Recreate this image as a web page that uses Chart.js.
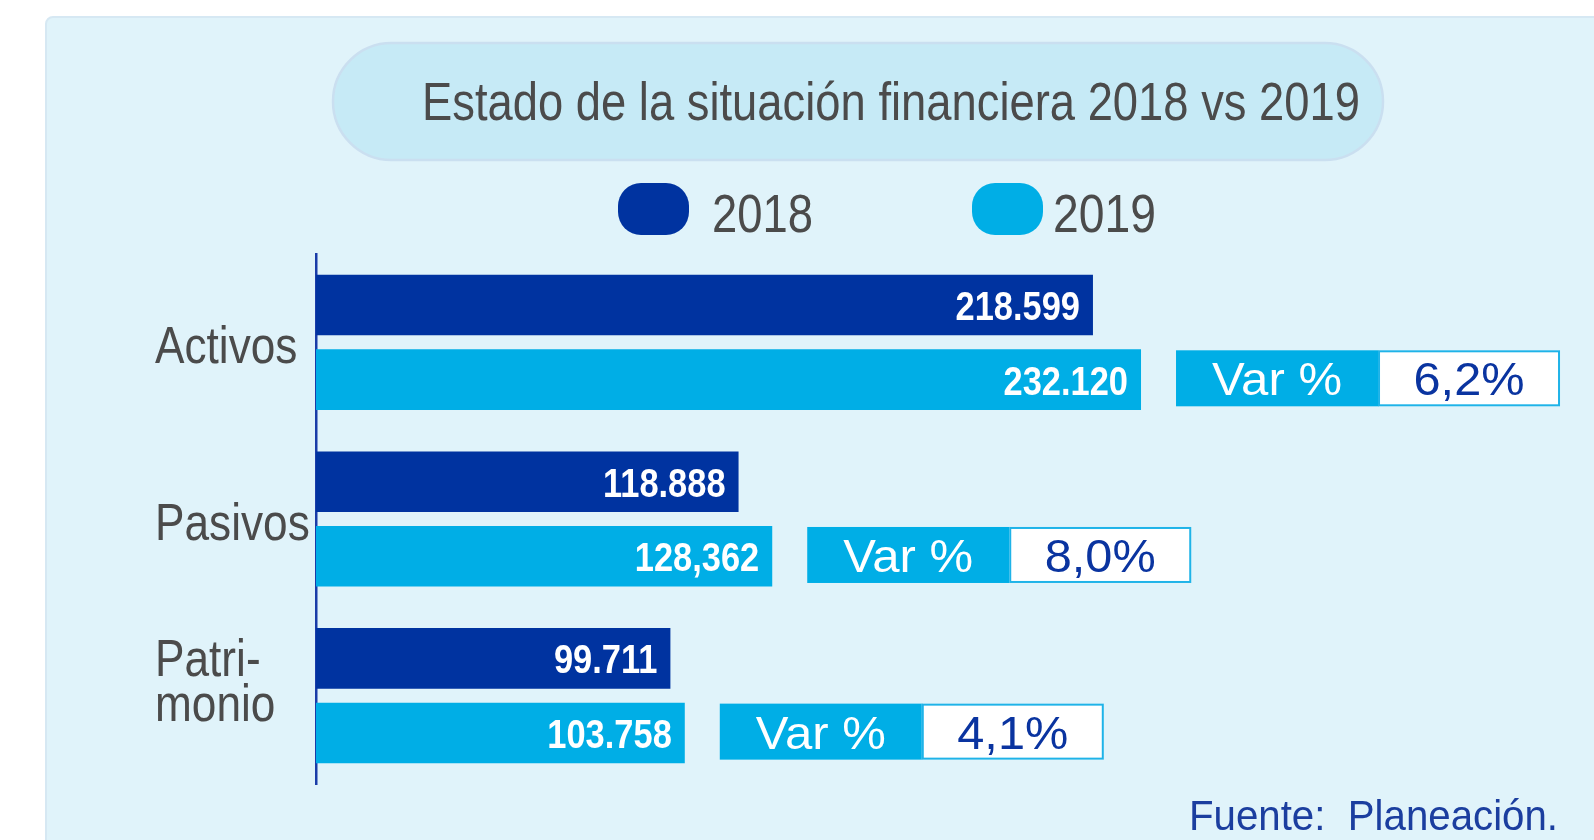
<!DOCTYPE html>
<html lang="es">

<head>
    <meta charset="UTF-8">
    <title>Estado de la situación financiera 2018 vs 2019</title>
    <style>
        body { margin: 0; background: #ffffff; }
        canvas { display: block; }
    </style>
</head>

<body>
    <canvas id="myChart" width="1594" height="840"></canvas>

    <script src="https://cdn.jsdelivr.net/npm/chart.js"></script>
    <script>
        // data
        const titleText = 'Estado de la situación financiera 2018 vs 2019';
        const sourceText = 'Fuente:  Planeación.';
        const categories = ['Activos', 'Pasivos', ['Patri-', 'monio']];
        const seriesNames = ['2018', '2019'];
        const values2018 = [218599, 118888, 99711];
        const values2019 = [232120, 128362, 103758];
        const valueLabels2018 = ['218.599', '118.888', '99.711'];
        const valueLabels2019 = ['232.120', '128,362', '103.758'];
        const varLabel = 'Var %';
        const varValues = ['6,2%', '8,0%', '4,1%'];

        const dark = '#0033a0';
        const cyan = '#00aee6';
        const grey = '#4b4b4b';
        const FONT = '"Liberation Sans", Arial, Helvetica, sans-serif';

        // draws text squeezed horizontally (sx) or fitted to a width
        function drawText(ctx, text, x, y, size, weight, color, align, sx, fitWidth) {
            ctx.save();
            ctx.font = weight + ' ' + size + 'px ' + FONT;
            ctx.fillStyle = color;
            ctx.textAlign = 'left';
            ctx.textBaseline = 'alphabetic';
            const raw = ctx.measureText(text).width;
            if (fitWidth) sx = fitWidth / raw;
            const w = raw * sx;
            let left = x;
            if (align === 'right') left = x - w;
            if (align === 'center') left = x - w / 2;
            ctx.translate(left, y);
            ctx.scale(sx, 1);
            ctx.fillText(text, 0, 0);
            ctx.restore();
            return w;
        }

        function roundRect(ctx, x, y, w, h, r) {
            ctx.beginPath();
            ctx.moveTo(x + r, y);
            ctx.lineTo(x + w - r, y);
            ctx.arcTo(x + w, y, x + w, y + r, r);
            ctx.lineTo(x + w, y + h - r);
            ctx.arcTo(x + w, y + h, x + w - r, y + h, r);
            ctx.lineTo(x + r, y + h);
            ctx.arcTo(x, y + h, x, y + h - r, r);
            ctx.lineTo(x, y + r);
            ctx.arcTo(x, y, x + r, y, r);
            ctx.closePath();
        }

        // background panel, title pill and legend
        const backdrop = {
            id: 'backdrop',
            beforeDraw(chart) {
                const ctx = chart.ctx;
                ctx.save();
                roundRect(ctx, 46, 17, 1600, 900, 7);
                ctx.fillStyle = '#e0f3fa';
                ctx.fill();
                ctx.strokeStyle = '#d6e8f3';
                ctx.lineWidth = 2;
                ctx.stroke();

                roundRect(ctx, 333, 43, 1050, 117, 58.5);
                ctx.fillStyle = '#c6eaf6';
                ctx.fill();
                ctx.strokeStyle = '#cadff0';
                ctx.lineWidth = 2.5;
                ctx.stroke();
                ctx.restore();

                drawText(ctx, titleText, 422, 120, 54, 'normal', grey, 'left', 1, 938);

                // legend
                const items = [
                    { box: 618, text: 712, w: 101 },
                    { box: 972, text: 1053, w: 103 }
                ];
                chart.data.datasets.forEach((ds, i) => {
                    ctx.save();
                    roundRect(ctx, items[i].box, 183, 71, 52, 23);
                    ctx.fillStyle = ds.backgroundColor;
                    ctx.fill();
                    ctx.restore();
                    drawText(ctx, ds.label, items[i].text, 232, 54, 'normal', grey, 'left', 1, items[i].w);
                });
            }
        };

        // value labels, var % boxes, category labels, source
        const annotations = {
            id: 'annotations',
            afterDatasetsDraw(chart) {
                const ctx = chart.ctx;
                const texts = [valueLabels2018, valueLabels2019];
                chart.data.datasets.forEach((ds, d) => {
                    chart.getDatasetMeta(d).data.forEach((bar, i) => {
                        drawText(ctx, texts[d][i], bar.x - 13, bar.y + 15, 41, 'bold', '#ffffff', 'right', 0.84);
                    });
                });

                // var % boxes next to the 2019 bars
                chart.getDatasetMeta(1).data.forEach((bar, i) => {
                    const top = bar.y - bar.height / 2 + 1;
                    const left = bar.x + 35;
                    const h = 56;
                    ctx.save();
                    ctx.fillStyle = cyan;
                    ctx.fillRect(left, top, 203, h);
                    ctx.fillStyle = '#ffffff';
                    ctx.fillRect(left + 202, top, 181, h);
                    ctx.strokeStyle = '#1fb3e8';
                    ctx.lineWidth = 2;
                    ctx.strokeRect(left + 202 + 1, top + 1, 180, h - 2);
                    ctx.restore();
                    drawText(ctx, varLabel, left + 101, top + h / 2 + 17, 47, 'normal', '#ffffff', 'center', 1, 130);
                    drawText(ctx, varValues[i], left + 293, top + h / 2 + 17, 47, 'normal', '#0a34a0', 'center', 1, 111);
                });

                // category labels
                const yScale = chart.scales.y;
                chart.data.labels.forEach((lab, i) => {
                    const lines = Array.isArray(lab) ? lab : [lab];
                    const cy = yScale.getPixelForTick(i);
                    lines.forEach((ln, j) => {
                        const by = cy + 21 + (j - (lines.length - 1) / 2) * 45 - (lines.length - 1) * 18;
                        drawText(ctx, ln, 155, by, 52, 'normal', grey, 'left', 0.85);
                    });
                });

                drawText(ctx, sourceText, 1558, 830, 42, 'normal', '#1b3e9f', 'right', 1, 369);
            }
        };

        const data = {
            labels: categories,
            datasets: [{
                label: seriesNames[0],
                data: values2018,
                backgroundColor: dark
            }, {
                label: seriesNames[1],
                data: values2019,
                backgroundColor: cyan
            }]
        };

        const config = {
            type: 'bar',
            data,
            options: {
                indexAxis: 'y',
                responsive: false,
                animation: false,
                events: [],
                layout: {
                    padding: { left: 316, right: 34, top: 254, bottom: 56 }
                },
                datasets: {
                    bar: {
                        categoryPercentage: 0.844,
                        barPercentage: 0.813,
                        borderWidth: 0
                    }
                },
                scales: {
                    x: {
                        display: false,
                        min: 0,
                        max: 350000
                    },
                    y: {
                        display: true,
                        grid: { display: false, drawTicks: false },
                        ticks: { display: false },
                        border: { display: true, color: '#1a3ca8', width: 2.5 },
                        afterFit(scale) { scale.width = 0; }
                    }
                },
                plugins: {
                    legend: { display: false },
                    title: { display: false },
                    tooltip: { enabled: false }
                }
            },
            plugins: [backdrop, annotations]
        };

        const myChart = new Chart(document.getElementById('myChart'), config);
    </script>
</body>

</html>
